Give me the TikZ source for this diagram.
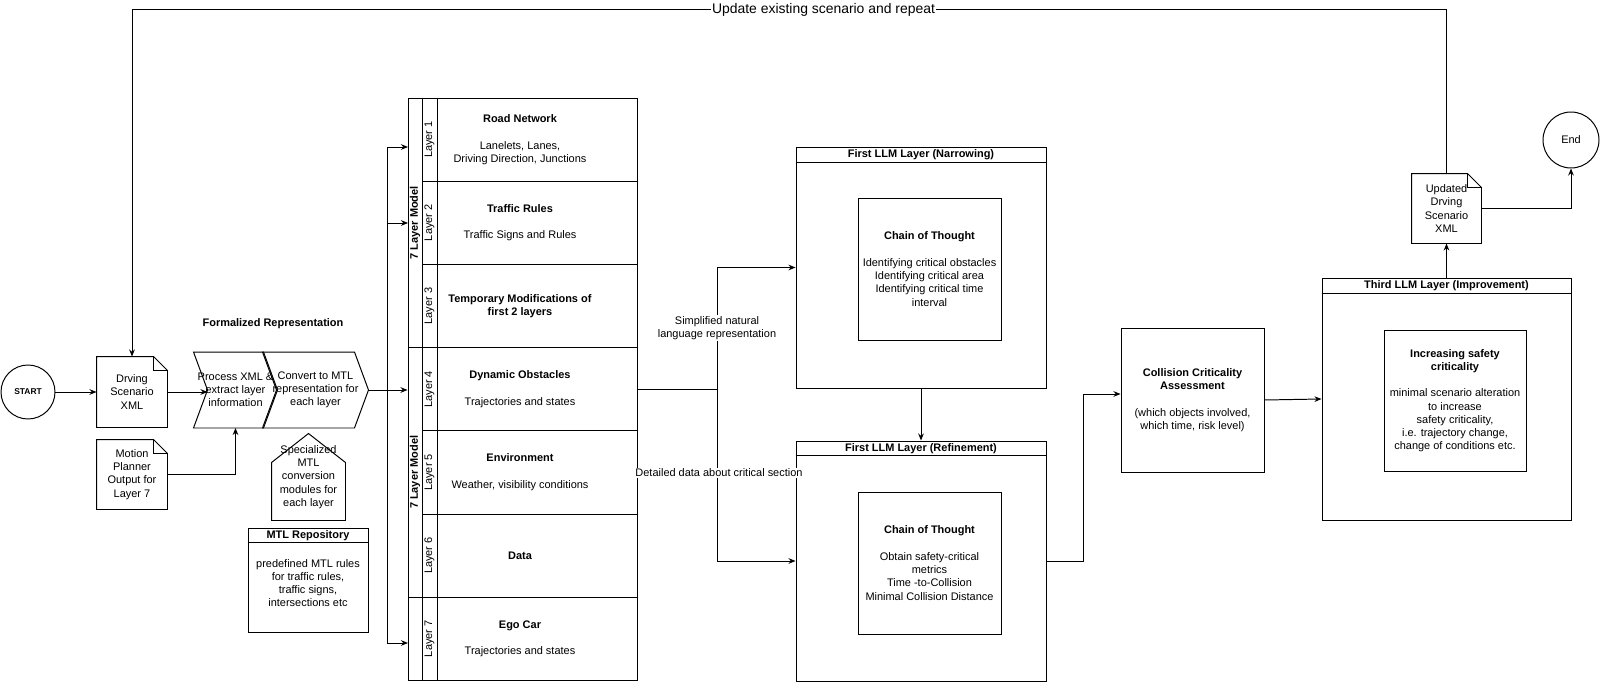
\documentclass[tikz,border=0pt]{standalone}
\usepackage{fontspec}
\setmainfont{Liberation Sans}
\usetikzlibrary{arrows.meta,calc}

\tikzset{
  sz/.style 2 args={minimum width=#1*0.025cm, minimum height=#2*0.025cm, inner sep=0pt},
  box/.style={draw, align=center},
  txt/.style={align=center, inner sep=0pt},
  arr/.style={-{Stealth[length=5pt,width=4pt]}},
  lbl/.style={fill=white, inner sep=1pt, align=center}}

% document shape with folded corner
\newcommand\docfold[1]{%
  \draw (#1.north west) -- ($(#1.north east)+(-14,0)$) -- ($(#1.north east)+(0,14)$)
        -- (#1.south east) -- (#1.south west) -- cycle;
  \draw ($(#1.north east)+(-14,0)$) |- ($(#1.north east)+(0,14)$);}
% step shape
\newcommand\chev[1]{%
  \draw (#1.north west) -- ($(#1.north east)+(-14,0)$) -- (#1.east)
        -- ($(#1.south east)+(-14,0)$) -- (#1.south west) -- ($(#1.west)+(14,0)$) -- cycle;}

\begin{document}
\begin{tikzpicture}[x=0.025cm, y=-0.025cm,
    font=\fontsize{7.8}{9.4}\selectfont,
    line width=0.7pt]

\useasboundingbox (0,0) rectangle (1600,683);

% input side
\node[draw, circle, minimum size=54*0.025cm, inner sep=0pt,
      font=\fontsize{6}{7}\selectfont\bfseries] (start) at (28,392) {START};
\node[sz={70}{70}, txt] (drv) at (132,392) {Drving\\Scenario\\XML};
\docfold{drv}
\node[sz={70}{69}, txt] (mpo) at (132,474.5) {Motion\\Planner\\Output for\\Layer 7};
\docfold{mpo}

\node[txt] (formal) at (273,324) {\textbf{Formalized Representation}};
\node[sz={83}{75}, txt] (proc) at (235.5,390) {Process XML \&\\extract layer\\information};
\chev{proc}
\node[sz={105}{75}, txt] (conv) at (315.5,390) {Convert to MTL\\representation for\\each layer};
\chev{conv}
\coordinate (procin) at ($(proc.west)+(14,0)$);

\node[sz={73}{86}, txt] (spec) at (308.5,477) {Specialized\\MTL\\conversion\\modules for\\each layer};
\draw (spec.south west) -- ($(spec.north west)+(0,29)$) -- (spec.north)
      -- ($(spec.north east)+(0,29)$) -- (spec.south east) -- cycle;

\node[box, sz={120}{104}] (repo) at (308,580) {};
\draw ($(repo.north west)+(0,15)$) -- ($(repo.north east)+(0,15)$);
\node[txt] (repoT) at (308,535.5) {\textbf{MTL Repository}};
\node[txt] (repoB) at (308,583) {predefined MTL rules\\for traffic rules,\\traffic signs,\\intersections etc};

\draw[arr] (start) -- (drv.west);
\draw[arr] (drv.east) -- (drv.east -| procin);
\draw[arr] (mpo.east) -| (proc.south);

% 7 layer model
\foreach \i in {1,...,7}{
  \node[box, sz={200}{83.2}] (L\i) at (537,{98+83.2*(\i-0.5)}) {};
  \node[box, sz={15}{83.2}] (lab\i) at (429.5,{98+83.2*(\i-0.5)}) {};
  \node[txt, rotate=90] (labT\i) at (lab\i) {Layer \i};
}
\node[box, sz={14}{249.6}] (grpA) at (415,222.8) {};
\node[box, sz={14}{249.6}] (grpB) at (415,472.4) {};
\node[box, sz={14}{83.2}] (grpC) at (415,638.6) {};
\node[txt, rotate=90] (grpAT) at (grpA) {\textbf{7 Layer Model}};
\node[txt, rotate=90] (grpBT) at (grpB) {\textbf{7 Layer Model}};

\foreach \i/\rowtxt in {
  1/{\textbf{Road Network}\\[9.5pt]Lanelets, Lanes,\\Driving Direction, Junctions},
  2/{\textbf{Traffic Rules}\\[9.5pt]Traffic Signs and Rules},
  3/{\textbf{Temporary Modifications of}\\\textbf{first 2 layers}},
  4/{\textbf{Dynamic Obstacles}\\[9.5pt]Trajectories and states},
  5/{\textbf{Environment}\\[9.5pt]Weather, visibility conditions},
  6/{\textbf{Data}},
  7/{\textbf{Ego Car}\\[9.5pt]Trajectories and states}}{
  \node[txt] (R\i) at (520,{98+83.2*(\i-0.5)}) {\rowtxt};
}

\coordinate (bus) at (387,390);
\coordinate (in1) at (408,147);
\coordinate (in2) at (408,223);
\coordinate (in7) at (408,643);
\draw[arr] (conv.east) -- (conv.east -| grpB.west);
\draw[arr] (bus) |- (in1);
\draw[arr] (bus) |- (in2);
\draw[arr] (bus) |- (in7);

% LLM layers
\node[box, sz={250}{241}] (nar) at (921,267.5) {};
\draw ($(nar.north west)+(0,16)$) -- ($(nar.north east)+(0,16)$);
\node[txt] (narT) at (921,155) {\textbf{First LLM Layer (Narrowing)}};
\node[box, sz={143}{142}] (cot1) at (929.5,269) {\textbf{Chain of Thought}\\[9.5pt]Identifying critical obstacles\\Identifying critical area\\Identifying critical time\\interval};

\node[box, sz={250}{240}] (ref) at (921,561) {};
\draw ($(ref.north west)+(0,15)$) -- ($(ref.north east)+(0,15)$);
\node[txt] (refT) at (921,449) {\textbf{First LLM Layer (Refinement)}};
\node[box, sz={143}{142}] (cot2) at (929.5,563) {\textbf{Chain of Thought}\\[9.5pt]Obtain safety-critical\\metrics\\Time -to-Collision\\Minimal Collision Distance};

\draw[arr] (nar.south) -- (ref.north);

\coordinate (split) at (717,389.2);
\draw (L4.east) -- (split);
\draw[arr] (split) |- (nar.west);
\draw[arr] (split) |- (ref.west);
\node[lbl] (simp) at (717,328) {Simplified natural\\language representation};
\node[lbl] (det) at (719,473) {Detailed data about critical section};

\node[box, sz={143}{144}] (cca) at (1192.5,400) {\textbf{Collision Criticality}\\\textbf{Assessment}\\[9.5pt](which objects involved,\\which time, risk level)};
\coordinate (rbend) at (1083,561);
\draw[arr] (ref.east) -- (rbend) |- ($(cca.west)+(0,-6)$);

\node[box, sz={249}{242}] (third) at (1446.5,399) {};
\draw ($(third.north west)+(0,16)$) -- ($(third.north east)+(0,16)$);
\node[txt] (thirdT) at (1446.5,286) {\textbf{Third LLM Layer (Improvement)}};
\node[box, sz={142}{141}] (inc) at (1455,400.5) {\textbf{Increasing safety}\\\textbf{criticality}\\[9.5pt]minimal scenario alteration\\to increase\\safety criticality,\\i.e. trajectory change,\\change of conditions etc.};
\draw[arr] (cca.east) -- (third.west);

% output and loop
\node[sz={69}{69}, txt] (upd) at (1446.5,208.5) {Updated\\Drving\\Scenario\\XML};
\docfold{upd}
\draw[arr] (third.north) -- (upd.south);
\node[draw, circle, minimum size=56*0.025cm, inner sep=0pt] (end) at (1571,140) {End};
\draw[arr] (upd.east) -| (end.south);

\coordinate (loopR) at (1446.5,9);
\draw[arr] (upd.north) -- (loopR) -| (drv.north);
\node[lbl, font=\fontsize{9.9}{11}\selectfont] (loopT) at (823.5,9.5) {Update existing scenario and repeat};

\end{tikzpicture}
\end{document}
